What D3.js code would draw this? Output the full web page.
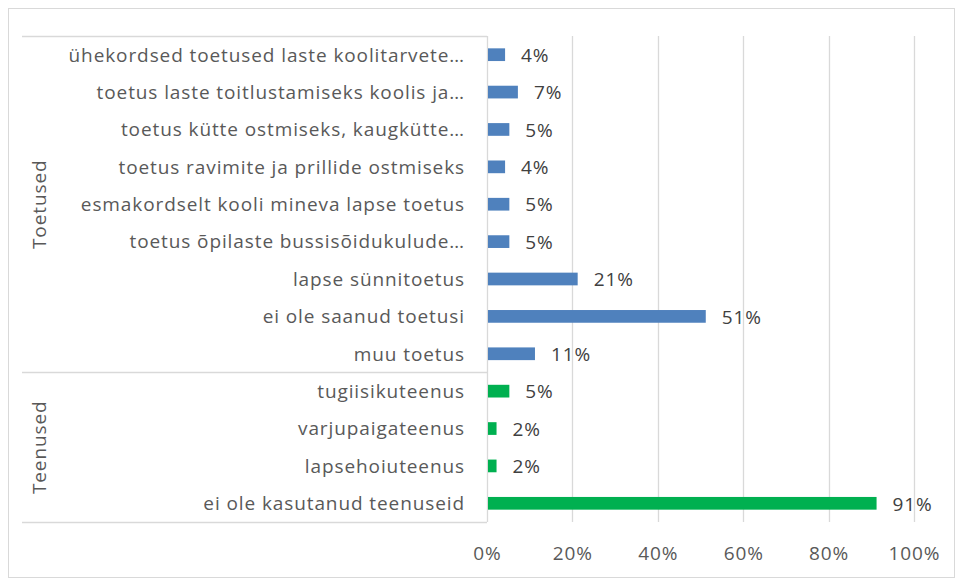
<!DOCTYPE html>
<html><head><meta charset="utf-8">
<script src="https://cdn.jsdelivr.net/npm/d3@7/dist/d3.min.js"></script>
<style>body{margin:0;background:#fff}svg{display:block}</style>
</head><body><svg id="c" width="960" height="579"></svg>
<script>
const categories = [
  "ühekordsed toetused laste koolitarvete…",
  "toetus laste toitlustamiseks koolis ja…",
  "toetus kütte ostmiseks, kaugkütte…",
  "toetus ravimite ja prillide ostmiseks",
  "esmakordselt kooli mineva lapse toetus",
  "toetus õpilaste bussisõidukulude…",
  "lapse sünnitoetus",
  "ei ole saanud toetusi",
  "muu toetus",
  "tugiisikuteenus",
  "varjupaigateenus",
  "lapsehoiuteenus",
  "ei ole kasutanud teenuseid"
];
const values = [4, 7, 5, 4, 5, 5, 21, 51, 11, 5, 2, 2, 91];
const groupOf = ["Toetused","Toetused","Toetused","Toetused","Toetused","Toetused","Toetused","Toetused","Toetused","Teenused","Teenused","Teenused","Teenused"];
const groups = ["Toetused", "Teenused"];
const groupColors = {"Toetused": "#4f81bd", "Teenused": "#00b050"};
const ticks = [0, 20, 40, 60, 80, 100];

(function () {
const svg = d3.select("#c");
const font = "'Open Sans', sans-serif";
const fs = 19;
const ls = "0.9px";
const pLeft = 487, pRight = 914, pTop = 36, pBottom = 522;
const x = d3.scaleLinear().domain([0, 100]).range([pLeft, pRight]);
const y = d3.scaleBand().domain(categories).range([pTop, pBottom]).paddingInner(0.66).paddingOuter(0.33);

svg.append("rect").attr("x", 8.5).attr("y", 8.5).attr("width", 946).attr("height", 569)
  .attr("fill", "#fff").attr("stroke", "#d9d9d9");

svg.append("g").selectAll("line").data(ticks.slice(1)).join("line")
  .attr("x1", d => Math.round(x(d)) + 0.5).attr("x2", d => Math.round(x(d)) + 0.5)
  .attr("y1", pTop).attr("y2", pBottom).attr("stroke", "#d9d9d9").attr("stroke-width", 1.3);

const xAxis = d3.axisBottom(x).tickValues(ticks).tickFormat(d => d + "%").tickSize(0).tickPadding(0);
const gx = svg.append("g").attr("transform", `translate(0,${pBottom + 38})`).call(xAxis);
gx.select(".domain").remove();
gx.selectAll("text").attr("fill", "#595959").attr("font-family", font).attr("font-size", fs)
  .attr("letter-spacing", ls).attr("dy", 0);

svg.append("line").attr("x1", pLeft + 0.5).attr("x2", pLeft + 0.5).attr("y1", pTop).attr("y2", pBottom)
  .attr("stroke", "#d9d9d9").attr("stroke-width", 1.3);

const band = (pBottom - pTop) / categories.length;
const nFirst = groupOf.filter(g => g === groups[0]).length;
const boundaryYs = [pTop, pTop + band * nFirst, pBottom];
svg.append("g").selectAll("line").data(boundaryYs).join("line")
  .attr("x1", 22).attr("x2", pLeft).attr("y1", d => Math.round(d) + 0.5).attr("y2", d => Math.round(d) + 0.5)
  .attr("stroke", "#d9d9d9").attr("stroke-width", 1.3);

const gl = [{g: groups[0], a: boundaryYs[0], b: boundaryYs[1]}, {g: groups[1], a: boundaryYs[1], b: boundaryYs[2]}];
svg.append("g").selectAll("text").data(gl).join("text")
  .attr("transform", d => `translate(46,${(d.a + d.b) / 2}) rotate(-90)`)
  .attr("text-anchor", "middle").attr("fill", "#595959").attr("font-family", font).attr("font-size", fs)
  .attr("letter-spacing", ls)
  .text(d => d.g);

svg.append("g").selectAll("text").data(categories).join("text")
  .attr("x", 465).attr("y", d => y(d) + y.bandwidth() / 2).attr("dy", "0.36em")
  .attr("text-anchor", "end").attr("fill", "#595959").attr("font-family", font).attr("font-size", fs)
  .attr("letter-spacing", ls)
  .text(d => d);

svg.append("g").selectAll("rect").data(values).join("rect")
  .attr("x", x(0) + 1).attr("y", (d, i) => y(categories[i]))
  .attr("width", d => x(d) - x(0)).attr("height", y.bandwidth())
  .attr("fill", (d, i) => groupColors[groupOf[i]]);

svg.append("g").selectAll("text").data(values).join("text")
  .attr("x", d => x(d) + 17).attr("y", (d, i) => y(categories[i]) + y.bandwidth() / 2).attr("dy", "0.38em")
  .attr("fill", "#404040").attr("font-family", font).attr("font-size", fs)
  .attr("letter-spacing", ls)
  .text(d => d + "%");
})();
</script></body></html>
